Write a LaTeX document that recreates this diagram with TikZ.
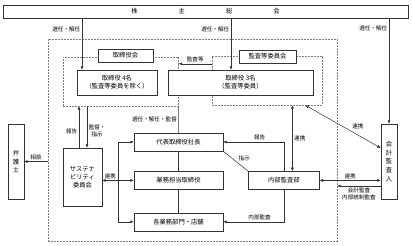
\documentclass[tikz,border=0pt]{standalone}
\usepackage{fontspec}
\setmainfont{Noto Sans CJK JP}
\usetikzlibrary{arrows.meta,positioning}
\tikzset{
    orgbox/.style={rectangle,draw=black!80,fill=white,align=center,inner sep=0pt,font=\fontsize{6.3}{8}\selectfont},
    orgvert/.style={orgbox,font=\fontsize{6.3}{8.6}\selectfont},
    orggroup/.style={rectangle,draw=black!50,dash pattern=on 2pt off 1pt,inner sep=0pt},
    orgtag/.style={font=\fontsize{5.6}{6.6}\selectfont,inner sep=1.5pt,align=center},
    orgline/.style={draw=black!80,line width=0.5pt},
    orgarrow/.style={orgline,-{Latex[length=3.5pt,width=3pt]}},
    orgboth/.style={orgline,{Latex[length=3.5pt,width=3pt]}-{Latex[length=3.5pt,width=3pt]}}
}
\begin{document}
\begin{tikzpicture}[x=1pt,y=-1pt,node distance=20pt]
    \useasboundingbox[fill=white] (0,0) rectangle (412,246);
    % frames
    \node[orgbox,minimum width=405pt,minimum height=13pt] (kabu) at (205.5,11.5) {株\hspace{41pt}主\hspace{41pt}総\hspace{41pt}会};
    \node[orggroup,minimum width=289pt,minimum height=202pt] (frame) at (192.5,140) {};
    \node[orggroup,minimum width=115.5pt,minimum height=49pt] (torikai) at (120.75,81.5) {};
    \node[orggroup,minimum width=110pt,minimum height=49pt] (kansa) at (267,80.5) {};
    \node[orgbox,minimum width=55pt,minimum height=13pt] (toritag) at (125.5,55.5) {取締役会};
    \node[orgbox,minimum width=57pt,minimum height=13pt] (kansatag) at (267.5,56.5) {監査等委員会};
    % boxes
    \node[orgbox,minimum width=80pt,minimum height=25pt] (tori4) at (117,82.5) {取締役\ 4名\\（監査等委員を除く）};
    \node[orgbox,minimum width=145pt,minimum height=25pt] (tori3) at (240.5,82.5) {取締役\ 3名\\（監査等委員）};
    \node[orgbox,minimum width=89pt,minimum height=18pt] (daihyo) at (178.5,142) {代表取締役社長};
    \node[orgbox,minimum width=89pt,minimum height=18pt,below=of daihyo] (gyomu) {業務担当取締役};
    \node[orgbox,minimum width=89pt,minimum height=18pt,below=23pt of gyomu] (kaku) {各業務部門・店舗};
    \node[orgbox,minimum width=71pt,minimum height=18pt,right=25pt of gyomu] (naibu) {内部監査部};
    \node[orgbox,minimum width=39pt,minimum height=58pt] (sus) at (82.5,177) {サステナ\\ビリティ\\委員会};
    \node[orgvert,minimum width=16pt,minimum height=75pt] (bengo) at (16,161.5) {弁\\護\\士};
    \node[orgvert,minimum width=16pt,minimum height=75pt] (kaikei) at (389,161.5) {会\\計\\監\\査\\人};
    % helper points
    \coordinate (in4) at ([xshift=-35pt]tori4.north);
    \coordinate (in3) at ([xshift=-9.5pt]tori3.north);
    \coordinate (kt) at ([yshift=-8pt]kansa.north west);
    \coordinate (up) at ([xshift=-3.5pt]sus.north);
    \coordinate (dn) at ([xshift=4.5pt]sus.north);
    \coordinate (rv) at (118,0);
    \coordinate (nv) at ([xshift=8.5pt]naibu.north);
    \coordinate (kd) at ([xshift=-17pt]kansa.south east);
    \coordinate (ku) at ([yshift=13.5pt]kaikei.west);
    \coordinate (ka) at ([yshift=-24.5pt]kaikei.west);
    % connectors
    \draw[orgarrow] (kabu.south -| in4) -- node[orgtag,left,pos=.21] (sen1) {選任・解任} (in4);
    \draw[orgarrow] (kabu.south -| in3) -- node[orgtag,left,pos=.21] (sen2) {選任・解任} (in3);
    \draw[orgarrow] (kabu.south -| kaikei) -- node[orgtag,left,pos=.1] (sen3) {選任・解任} (kaikei.north);
    \draw[orgarrow] (kt) -- node[orgtag,above] (kst) {監査等} (kt -| torikai.east);
    \draw[orgline] (torikai.south east) -- node[orgtag,left] (kan) {選任・解任・監督} (daihyo.north);
    \draw[orgline] (daihyo) -- (gyomu);
    \draw[orgline] (gyomu) -- (kaku);
    \draw[orgarrow] (up) -- node[orgtag,left,pos=.4] (hok1) {報告} (up |- torikai.south);
    \draw[orgarrow] (dn |- torikai.south) -- node[orgtag,right,pos=.6] (shi1) {監督・\\指示} (dn);
    \draw[orgarrow] (frame.west |- bengo) -- node[orgtag,above] (sod) {相談} (bengo.east);
    \draw[orgboth] (sus.east |- gyomu) -- node[orgtag,above,pos=.25] (ren1) {連携} (gyomu.west);
    \draw[orgboth] (daihyo.west) -- (rv |- daihyo) -- (rv |- kaku) -- (kaku.west);
    \draw[orgarrow] (naibu.north) |- node[orgtag,above,pos=.7] (hok2) {報告} (daihyo.east);
    \draw[orgline] (daihyo.south east) -- node[orgtag,above right,pos=.55] (shi2) {指示} (naibu.north west);
    \draw[orgarrow] (naibu.south) |- node[orgtag,above,pos=.7] (nai) {内部監査} (kaku.east);
    \draw[orgboth] (nv) -- node[orgtag,right] (ren2) {連携} (nv |- kansa.south);
    \draw[orgboth] (kd) -- node[orgtag,above right,pos=.6] (ren3) {連携} (ku);
    \draw[orgboth] (naibu.east) -- node[orgtag,above] (ren4) {連携} (naibu.east -| kaikei.west);
    \draw[orgarrow] (ka) -- node[orgtag,below] (kai) {会計監査\\内部統制監査} (ka -| frame.east);
\end{tikzpicture}
\end{document}
